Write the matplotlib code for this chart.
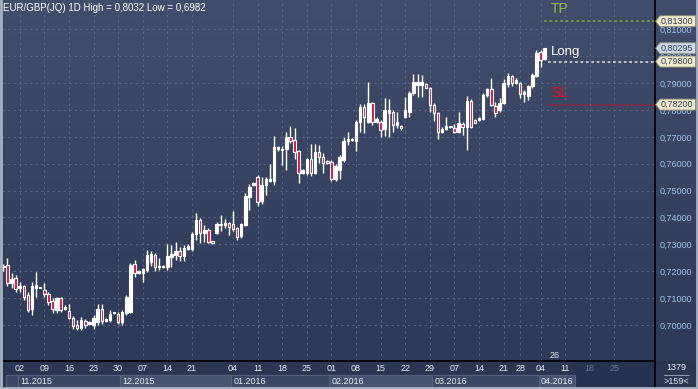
# Свечной график EUR/GBP, дневки, ноябрь 2015 - апрель 2016
import numpy as np
import pandas as pd
import matplotlib
matplotlib.use('Agg')
import matplotlib.pyplot as plt
from matplotlib.patches import Rectangle, Polygon
from matplotlib.colors import LinearSegmentedColormap
from matplotlib.lines import Line2D
from matplotlib.transforms import blended_transform_factory

plt.rcParams['font.family'] = ['Liberation Sans', 'DejaVu Sans']

# торговые дни: без суббот и без праздников
first_day = '2015-10-28'
last_day = '2016-04-30'
holidays = ['2015-12-25', '2016-01-01', '2016-03-25', '2016-03-27', '2016-03-28']

opens = [
    .7214, .7223, .7155, .7174, .7139, .7146, .7112, .7058, .7137, .7139,
    .7130, .7114, .7089, .7056, .7102, .7058, .7052, .7025, .7000, .6988,
    .7015, .7004, .7000, .7012, .7058, .7016, .7019, .7044, .7041, .7012,
    .7046, .7050, .7227, .7195, .7195, .7205, .7235, .7260, .7215, .7216,
    .7217, .7254, .7260, .7275, .7257, .7283, .7283, .7339, .7391, .7341,
    .7353, .7312, .7343, .7372, .7371, .7378, .7375, .7360, .7331, .7372,
    .7477, .7520, .7549, .7461, .7521, .7536, .7537, .7654, .7652, .7654,
    .7698, .7688, .7647, .7564, .7564, .7616, .7564, .7645, .7624, .7610,
    .7608, .7543, .7577, .7614, .7683, .7690, .7686, .7757, .7812, .7757,
    .7825, .7757, .7755, .7728, .7790, .7794, .7744, .7740, .7773, .7794,
    .7864, .7893, .7893, .7897, .7881, .7819, .7790, .7719, .7728, .7738,
    .7734, .7719, .7747, .7738, .7835, .7763, .7763, .7765, .7856, .7877,
    .7816, .7798, .7827, .7897, .7926, .7902, .7899, .7860, .7852, .7889,
    .7928, .8015, .7990]

closes = [
    .7220, .7155, .7170, .7134, .7145, .7105, .7056, .7146, .7149, .7141,
    .7114, .7084, .7060, .7099, .7056, .7068, .7025, .6996, .6988, .7019,
    .7000, .7011, .7027, .7060, .7016, .7022, .7041, .7048, .7011, .7047,
    .7105, .7223, .7195, .7202, .7207, .7260, .7264, .7217, .7219, .7220,
    .7257, .7264, .7275, .7258, .7285, .7294, .7339, .7391, .7341, .7353,
    .7310, .7306, .7376, .7376, .7381, .7363, .7356, .7329, .7376, .7480,
    .7514, .7527, .7459, .7521, .7543, .7543, .7661, .7661, .7656, .7698,
    .7686, .7645, .7564, .7577, .7616, .7564, .7645, .7626, .7604, .7604,
    .7542, .7590, .7626, .7685, .7693, .7692, .7757, .7812, .7775, .7825,
    .7757, .7765, .7726, .7800, .7800, .7744, .7757, .7731, .7798, .7864,
    .7903, .7903, .7903, .7883, .7819, .7790, .7719, .7729, .7740, .7739,
    .7719, .7750, .7738, .7835, .7738, .7753, .7769, .7856, .7877, .7819,
    .7788, .7825, .7902, .7926, .7899, .7912, .7860, .7868, .7889, .7930,
    .8011, .7986, .80295]

highs = [
    .7228, .7248, .7192, .7186, .7161, .7150, .7124, .7161, .7198, .7143,
    .7155, .7124, .7102, .7105, .7105, .7074, .7077, .7033, .7019, .7031,
    .7022, .7015, .7037, .7077, .7077, .7027, .7056, .7050, .7049, .7056,
    .7112, .7229, .7242, .7205, .7211, .7279, .7276, .7268, .7248, .7222,
    .7301, .7298, .7310, .7289, .7298, .7301, .7347, .7418, .7397, .7372,
    .7360, .7314, .7385, .7409, .7394, .7385, .7424, .7366, .7381, .7490,
    .7524, .7531, .7558, .7549, .7549, .7599, .7702, .7666, .7666, .7718,
    .7742, .7733, .7651, .7580, .7623, .7675, .7675, .7670, .7640, .7612,
    .7614, .7600, .7633, .7698, .7719, .7695, .7763, .7821, .7821, .7903,
    .7831, .7773, .7763, .7843, .7840, .7800, .7794, .7744, .7847, .7872,
    .7933, .7934, .7930, .7899, .7887, .7827, .7794, .7738, .7775, .7741,
    .7748, .7794, .7757, .7852, .7840, .7765, .7775, .7862, .7883, .7918,
    .7831, .7843, .7914, .7936, .7930, .7918, .7905, .7874, .7893, .7936,
    .8023, .8023, .8032]

lows = [
    .7201, .7146, .7137, .7124, .7124, .7094, .7049, .7037, .7105, .7136,
    .7105, .7074, .7044, .7044, .7049, .7054, .7022, .6984, .6982, .6982,
    .6988, .7000, .6985, .7000, .7004, .7013, .7013, .7042, .7004, .7001,
    .7039, .7046, .7180, .7191, .7161, .7199, .7219, .7201, .7205, .7213,
    .7205, .7217, .7242, .7239, .7239, .7279, .7276, .7316, .7306, .7310,
    .7304, .7302, .7339, .7350, .7362, .7335, .7350, .7316, .7322, .7368,
    .7428, .7516, .7444, .7450, .7483, .7533, .7521, .7647, .7595, .7577,
    .7677, .7619, .7527, .7562, .7558, .7553, .7562, .7603, .7564, .7600,
    .7535, .7535, .7542, .7605, .7670, .7686, .7649, .7719, .7716, .7750,
    .7744, .7750, .7698, .7703, .7701, .7719, .7732, .7726, .7769, .7775,
    .7856, .7850, .7850, .7881, .7794, .7760, .7692, .7716, .7726, .7734,
    .7716, .7713, .7707, .7651, .7732, .7750, .7759, .7763, .7850, .7815,
    .7775, .7794, .7822, .7887, .7889, .7897, .7843, .7831, .7837, .7881,
    .7924, .7961, .7986]

# подписи недель
week_days = ['2015-11-02', '2015-11-09', '2015-11-16', '2015-11-23', '2015-11-30',
             '2015-12-07', '2015-12-14', '2015-12-21',
             '2016-01-04', '2016-01-11', '2016-01-18', '2016-01-25',
             '2016-02-01', '2016-02-08', '2016-02-15', '2016-02-22', '2016-02-29',
             '2016-03-07', '2016-03-14', '2016-03-21', '2016-03-28',
             '2016-04-04', '2016-04-11', '2016-04-18', '2016-04-25']
week_labels = ['02', '09', '16', '23', '30', '07', '14', '21', '04', '11', '18', '25',
               '01', '08', '15', '22', '29', '07', '14', '21', '28', '04', '11', '18', '25']

# месяцы
month_days = ['2015-11-02', '2015-12-01', '2016-01-04', '2016-02-01', '2016-03-01', '2016-04-04']
month_labels = ['11.2015', '12.2015', '01.2016', '02.2016', '03.2016', '04.2016']
future_day = '2016-04-14'

# уровни сделки
tp_level = 0.8130
entry_level = 0.7980
sl_level = 0.7820
last_price = 0.80295
y_ticks = [0.70, 0.71, 0.72, 0.73, 0.74, 0.75, 0.76, 0.77, 0.78, 0.79, 0.80, 0.81]

cal = pd.date_range(first_day, last_day)
cal = cal[(cal.weekday != 5) & (~cal.isin(pd.to_datetime(holidays)))]

O = np.array(opens)
C = np.array(closes)
Hi = np.array(highs)
Lo = np.array(lows)
n = len(O)
x = np.arange(n)

W, H = 698, 389
fig = plt.figure(figsize=(W / 100, H / 100), dpi=100)
fig.patch.set_facecolor('#2c3652')


def box(x0, y0, x1, y1):
    return [x0 / W, 1 - y1 / H, (x1 - x0) / W, (y1 - y0) / H]


# фон с градиентом
bg = fig.add_axes(box(0, 0, W, 361), zorder=-2)
grad = np.linspace(0, 1, 256).reshape(-1, 1)
cmap = LinearSegmentedColormap.from_list('bg', ['#414d6a', '#2d3957'])
bg.imshow(grad, aspect='auto', cmap=cmap, extent=[0, 1, 0, 1])
bg.axis('off')

ymin, ymax = 0.68661, 0.82090
xmin, xmax = -0.32, 158.9

# нижняя полоса месяцев (под основной осью, чтобы подписи дат были сверху)
axb = fig.add_axes(box(2, 362, 655, 388), zorder=-1)
axb.set_xlim(xmin, xmax)
axb.set_ylim(0, 26)
axb.axis('off')
m_pos = list(cal.searchsorted(pd.to_datetime(month_days)) - 0.5)
f_pos = cal.searchsorted(pd.to_datetime(future_day)) - 0.5
axb.add_patch(Rectangle((0.7, 1), m_pos[0] - 0.7, 12, fc='#3c4764', ec='#56617e', lw=0.8))
edges = m_pos + [f_pos]
for i, lab in enumerate(month_labels):
    fc = '#3c4764' if i % 2 == 0 else '#48536f'
    axb.add_patch(Rectangle((edges[i], 1), edges[i + 1] - edges[i], 12, fc=fc, ec='#56617e', lw=0.8))
    axb.text(edges[i] + 0.6, 7, lab, color='#e6ecf5', fontsize=6.5, va='center')
axb.add_patch(Rectangle((f_pos, 0), xmax - f_pos, 26, fc='#273150', ec='none', zorder=0))

ax = fig.add_axes(box(2, 0, 655, 361))
ax.set_facecolor('none')
ax.set_xlim(xmin, xmax)
ax.set_ylim(ymin, ymax)

# свечи
up = C >= O
ax.vlines(x, Lo, Hi, color='white', lw=1, zorder=3)
ax.bar(x, np.maximum(np.abs(C - O), 0.00004), bottom=np.minimum(O, C), width=0.6,
       color=np.where(up, 'white', '#e0123c'), edgecolor='white', lw=0.8, zorder=4)

# оси и сетка
tick_pos = cal.searchsorted(pd.to_datetime(week_days))
ax.set_xticks(tick_pos)
ax.set_xticklabels(week_labels)
ax.set_yticks(y_ticks)
ax.set_yticklabels([('%.5f' % v).replace('.', ',') for v in y_ticks])
ax.yaxis.tick_right()
ax.tick_params(axis='y', length=0, pad=3, labelsize=6.5, labelcolor='#a6c6ee')
ax.tick_params(axis='x', length=0, pad=2.5, labelsize=6.5, labelcolor='#e6ecf5')
for lab in ax.get_xticklabels()[-2:]:
    lab.set_color('#6d7892')
ax.grid(color='#5a6684', ls=(0, (2, 3)), lw=0.8)
ax.set_axisbelow(True)
ax.spines['top'].set_visible(False)
ax.spines['left'].set_color('#1c2336')
ax.spines['right'].set_color('black')
ax.spines['bottom'].set_color('black')
ax.spines['right'].set_linewidth(1.2)
ax.spines['bottom'].set_linewidth(1.2)

# линии TP / Long / SL
x_tp = n - 1.1
ax.hlines(tp_level, x_tp, xmax, color='#7e9b3b', ls=(0, (1.5, 1.5)), lw=1.3, zorder=2)
ax.hlines(entry_level, x_tp + 1, xmax, color='#c9cdd6', ls=(0, (1.5, 1.5)), lw=1.3, zorder=2)
ax.hlines(sl_level, x_tp + 1, xmax, color='#b5122c', ls=(0, (1.5, 1.5)), lw=1.3, zorder=2)
ax.text(x_tp + 1.7, 0.8176, 'TP', color='#8cc04a', fontsize=10, va='center')
ax.text(x_tp + 1.7, 0.8017, 'Long', color='white', fontsize=9.5, va='center')
ax.text(x_tp + 1.7, 0.7863, 'SL', color='#e2101e', fontsize=10, va='center')

tr = blended_transform_factory(ax.transData, ax.transAxes)
ax.text(n + 1.5, 0.016, '26', color='#e6ecf5', fontsize=6.5, ha='center', va='center', transform=tr)

fig.text(3 / W, 1 - 8 / H, 'EUR/GBP(JQ) 1D High = 0,8032 Low = 0,6982',
         color='white', fontsize=7, va='center')

# ярлыки цен справа
axr = fig.add_axes(box(655, 0, 698, 361), zorder=5)
axr.set_xlim(0, 43)
axr.set_ylim(ymin, ymax)
axr.axis('off')
hh = 5.5 * (ymax - ymin) / 361
for lvl, fc in [(tp_level, '#eeeacb'), (last_price, '#cfd6e3'),
                (entry_level, '#eeeacb'), (sl_level, '#eeeacb')]:
    pts = [(0.6, lvl), (5, lvl + hh), (40.5, lvl + hh), (40.5, lvl - hh), (5, lvl - hh)]
    axr.add_patch(Polygon(pts, closed=True, fc=fc, ec='#8c8c78', lw=0.6))
    axr.text(5.5, lvl, ('%.5f' % lvl).replace('.', ','), color='#33415f',
             fontsize=6.5, va='center')

# правый нижний блок
fig.add_artist(Line2D([655 / W, 655 / W], [0, 1 - 361 / H], color='black', lw=1.2))
fig.text(676 / W, 1 - 368 / H, '1379', color='#e6ecf5', fontsize=6.5, ha='center', va='center')
fig.add_artist(Line2D([664 / W, 689 / W], [1 - 375 / H, 1 - 375 / H], color='#8c96aa', lw=0.8))
fig.text(676 / W, 1 - 381 / H, '>159<', color='#e6ecf5', fontsize=6.5, ha='center', va='center')

# рамка
for xs, ys in [([0.5 / W, 0.5 / W], [0, 1]), ([1 - 1 / W, 1 - 1 / W], [0, 1]), ([0, 1], [1 / H, 1 / H])]:
    fig.add_artist(Line2D(xs, ys, color='#aab3c2', lw=2))

fig.savefig('out.png', dpi=100)
